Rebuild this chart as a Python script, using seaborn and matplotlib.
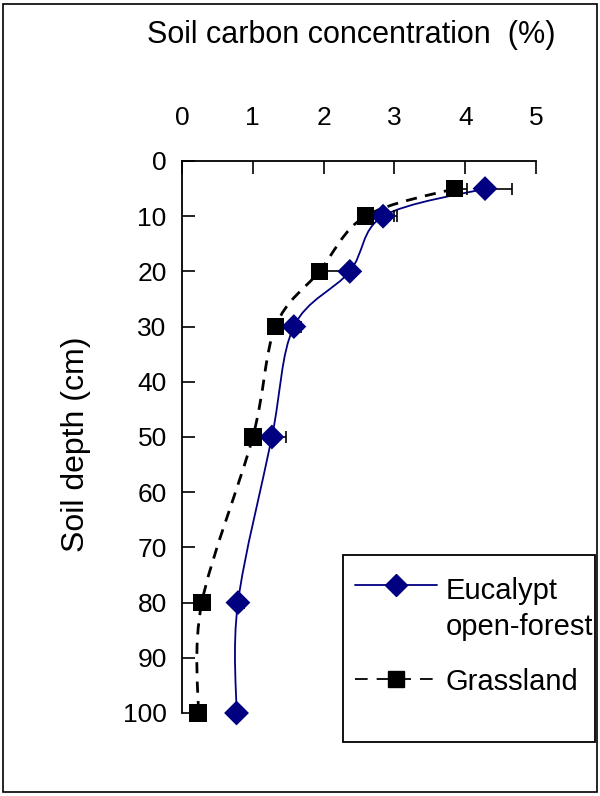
import numpy as np
import pandas as pd
import matplotlib
matplotlib.use("Agg")
import matplotlib.pyplot as plt
import seaborn as sns
from matplotlib.path import Path
from matplotlib.patches import PathPatch, Rectangle
from matplotlib.lines import Line2D
from matplotlib.legend_handler import HandlerLine2D

# ---- data ----
depth = [5, 10, 20, 30, 50, 80, 100]
eucalypt = [4.28, 2.84, 2.37, 1.58, 1.27, 0.79, 0.77]
eucalypt_err = [0.38, 0.20, 0.06, 0.10, 0.20, 0.09, 0.0]
grassland = [3.85, 2.59, 1.94, 1.32, 1.00, 0.28, 0.23]
grassland_err = [0.18, 0.41, 0.43, 0.05, 0.05, 0.03, 0.0]
x_ticks = [0, 1, 2, 3, 4, 5]
y_ticks = [0, 10, 20, 30, 40, 50, 60, 70, 80, 90, 100]
series_names = ["Eucalypt\nopen-forest", "Grassland"]

NAVY = "#000080"
FONT = "Liberation Sans"

sns.set_theme(style="white")
plt.rcParams["font.family"] = [FONT, "DejaVu Sans"]
plt.rcParams["text.color"] = "black"

fig = plt.figure(figsize=(6.0, 7.96), dpi=100)
W, H = 600, 796
ax = fig.add_axes([182 / W, 1 - 713 / H, (536 - 182) / W, (713 - 161) / H])

df = pd.DataFrame({
    "depth": depth * 2,
    "carbon": eucalypt + grassland,
    "series": [series_names[0]] * len(depth) + [series_names[1]] * len(depth),
})


def smooth_path(xs, ys):
    """Excel-style smoothed line: cubic Bezier through the points."""
    pts = np.column_stack([xs, ys]).astype(float)
    n = len(pts)
    verts = [pts[0]]
    codes = [Path.MOVETO]
    for i in range(n - 1):
        p0 = pts[i - 1] if i > 0 else pts[i]
        p1 = pts[i]
        p2 = pts[i + 1]
        p3 = pts[i + 2] if i + 2 < n else pts[i + 1]
        c1 = p1 + (p2 - p0) / 6.0
        c2 = p2 - (p3 - p1) / 6.0
        verts += [c1, c2, p2]
        codes += [Path.CURVE4] * 3
    return Path(verts, codes)


# smoothed connecting lines
ax.add_patch(PathPatch(smooth_path(eucalypt, depth), facecolor="none",
                       edgecolor=NAVY, lw=1.3, zorder=2, clip_on=False))
ax.add_patch(PathPatch(smooth_path(grassland, depth), facecolor="none",
                       edgecolor="black", lw=2.0, linestyle=(0, (4, 3)), zorder=2,
                       clip_on=False))

# error bars (positive side only)
for xs, errs in [(eucalypt, eucalypt_err), (grassland, grassland_err)]:
    eb = ax.errorbar(xs, depth, xerr=[np.zeros(len(depth)), errs], fmt="none",
                     ecolor="black", elinewidth=1.2, capsize=4.5, capthick=1.2,
                     zorder=3)
    for art in eb.lines[1] + eb.lines[2]:
        art.set_clip_on(False)

# markers via seaborn
sns.scatterplot(data=df, x="carbon", y="depth", hue="series", style="series",
                palette={series_names[0]: NAVY, series_names[1]: "black"},
                markers={series_names[0]: "D", series_names[1]: "s"},
                s=160, edgecolor="none", linewidth=0, ax=ax, legend=False,
                zorder=4, clip_on=False)

ax.set_xlim(0, 5)
ax.set_ylim(100, 0)
ax.xaxis.tick_top()
ax.xaxis.set_label_position("top")
ax.set_xticks(x_ticks)
ax.set_yticks(y_ticks)
ax.tick_params(axis="x", direction="in", length=9, width=1.2, pad=22,
               labelsize=19, colors="black", top=True, bottom=False)
ax.tick_params(axis="y", direction="in", length=9, width=1.2, pad=11,
               labelsize=19, colors="black", left=True)
ax.set_xlabel("Soil carbon concentration  (%)", fontsize=22, labelpad=46, color="black")
ax.xaxis.label.set_x((351 - 182) / (536 - 182))
ax.set_ylabel("Soil depth (cm)", fontsize=23, labelpad=23, color="black")
ax.yaxis.label.set_y((713 - 444) / (713 - 161))
for s in ["right", "bottom"]:
    ax.spines[s].set_visible(False)
for s in ["left", "top"]:
    ax.spines[s].set_color("black")
    ax.spines[s].set_linewidth(1.3)
ax.grid(False)


class UpperHandler(HandlerLine2D):
    def __init__(self, shift, **kw):
        super().__init__(**kw)
        self.shift = shift

    def create_artists(self, legend, orig_handle, xdescent, ydescent, width,
                       height, fontsize, trans):
        arts = super().create_artists(legend, orig_handle, xdescent, ydescent,
                                      width, height, fontsize, trans)
        for a in arts:
            a.set_ydata(np.asarray(a.get_ydata()) + self.shift)
        return arts


h_euc = Line2D([], [], color=NAVY, lw=1.3, marker="D", markersize=11)
h_gra = Line2D([], [], color="black", lw=1.3, linestyle=(0, (7, 5)),
               marker="s", markersize=11)
leg = fig.legend([h_euc, h_gra], series_names, loc="upper left",
                 bbox_to_anchor=(355 / W, 1 - 577 / H), frameon=False,
                 fontsize=21, handlelength=2.8, handletextpad=0.3,
                 labelspacing=0.92, borderaxespad=0, borderpad=0,
                 handler_map={h_euc: UpperHandler(shift=18, numpoints=1),
                              h_gra: HandlerLine2D(numpoints=1)})
for t in leg.get_texts():
    t.set_linespacing(1.35)
    t.set_color("black")

# legend frame and figure border
fig.add_artist(Rectangle((343 / W, 1 - 742 / H), (595 - 343) / W, (742 - 555) / H,
                         transform=fig.transFigure, fill=False, edgecolor="black",
                         lw=1.3))
fig.add_artist(Rectangle((3 / W, 4 / H), (597 - 3) / W, (792 - 4) / H,
                         transform=fig.transFigure, fill=False, edgecolor="black",
                         lw=1.2))

fig.savefig("out.png", dpi=100)
